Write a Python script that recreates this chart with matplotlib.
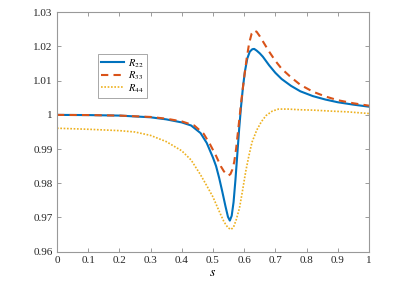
# R22 / R33 / R44 against s
import matplotlib
matplotlib.use("Agg")
import matplotlib.pyplot as plt
from matplotlib.ticker import FuncFormatter

plt.rcParams["font.family"] = ["Liberation Serif", "DejaVu Serif"]
plt.rcParams["mathtext.fontset"] = "stix"

# values
s_22 = [0.0, 0.1, 0.2, 0.3, 0.35, 0.4, 0.43, 0.46, 0.48, 0.50, 0.51, 0.52, 0.53, 0.54,
        0.548, 0.554, 0.56, 0.566, 0.572, 0.578, 0.584, 0.59, 0.596, 0.602, 0.61, 0.618,
        0.626, 0.632, 0.64, 0.65, 0.66, 0.68, 0.70, 0.72, 0.75, 0.78, 0.82, 0.86, 0.9, 0.95, 1.0]
r_22 = [1.0000, 0.99995, 0.9998, 0.9993, 0.9987, 0.9978, 0.9969, 0.9947, 0.9918, 0.9875,
        0.9850, 0.9815, 0.9775, 0.9733, 0.9702, 0.9691, 0.9705, 0.9745, 0.9810, 0.9885,
        0.9960, 1.0025, 1.0080, 1.0125, 1.0165, 1.0185, 1.0192, 1.0193, 1.0188, 1.0180,
        1.0170, 1.0145, 1.0123, 1.0105, 1.0085, 1.0069, 1.0055, 1.0045, 1.0037, 1.0030, 1.0024]

s_33 = [0.0, 0.1, 0.2, 0.3, 0.35, 0.4, 0.44, 0.47, 0.49, 0.51, 0.525, 0.535, 0.545, 0.55,
        0.556, 0.562, 0.568, 0.574, 0.58, 0.586, 0.592, 0.6, 0.608, 0.616, 0.624, 0.632,
        0.64, 0.65, 0.66, 0.68, 0.70, 0.72, 0.75, 0.78, 0.82, 0.86, 0.9, 0.95, 1.0]
r_33 = [1.0000, 0.99995, 0.9998, 0.9994, 0.9989, 0.9981, 0.9969, 0.9945, 0.9915, 0.9880,
        0.9850, 0.9835, 0.9825, 0.9823, 0.9827, 0.9840, 0.9862, 0.9900, 0.9950, 1.0000,
        1.0050, 1.0110, 1.0165, 1.0210, 1.0238, 1.0247, 1.0243, 1.0230, 1.0215, 1.0185,
        1.0158, 1.0135, 1.0110, 1.0088, 1.0068, 1.0054, 1.0043, 1.0034, 1.0027]

s_44 = [0.0, 0.1, 0.2, 0.25, 0.3, 0.35, 0.4, 0.43, 0.46, 0.48, 0.5, 0.52, 0.535, 0.548,
        0.558, 0.566, 0.575, 0.585, 0.595, 0.605, 0.615, 0.625, 0.64, 0.655, 0.67, 0.69,
        0.71, 0.74, 0.78, 0.82, 0.88, 0.93, 1.0]
r_44 = [0.9961, 0.9958, 0.9954, 0.9950, 0.9940, 0.9922, 0.9895, 0.9868, 0.9825, 0.9793,
        0.9760, 0.9718, 0.9688, 0.9670, 0.9665, 0.9672, 0.9695, 0.9728, 0.9780, 0.9835,
        0.9880, 0.9920, 0.9955, 0.9980, 0.9998, 1.0011, 1.0017, 1.0017, 1.0015, 1.0014,
        1.0011, 1.0009, 1.0004]

x_ticks = [0, 0.1, 0.2, 0.3, 0.4, 0.5, 0.6, 0.7, 0.8, 0.9, 1]
y_ticks = [0.96, 0.97, 0.98, 0.99, 1.0, 1.01, 1.02, 1.03]

fig = plt.figure(figsize=(4.15, 3.0), dpi=100)
ax = fig.add_axes([0.1373, 0.161, 0.7518, 0.798])

ax.plot(s_22, r_22, color="#0072BD", lw=1.5, label="$R_{22}$")
ax.plot(s_33, r_33, color="#D95319", lw=1.5, ls=(0, (3.5, 2.5)), label="$R_{33}$")
ax.plot(s_44, r_44, color="#EDB120", lw=1.2, ls=(0, (1, 1)), label="$R_{44}$")

ax.set_xlim(0, 1)
ax.set_ylim(0.96, 1.03)
ax.set_xticks(x_ticks)
ax.set_yticks(y_ticks)
ax.xaxis.set_major_formatter(FuncFormatter(lambda v, p: "%g" % v))
ax.yaxis.set_major_formatter(FuncFormatter(lambda v, p: "%g" % round(v, 2)))
ax.tick_params(direction="in", length=3, width=0.6, top=True, right=True,
               labelsize=8, colors="0.55", labelcolor="#262626", pad=3)
for sp in ax.spines.values():
    sp.set_color("0.6")
    sp.set_linewidth(0.8)

ax.set_xlabel("$s$", fontsize=10, labelpad=1)

leg = ax.legend(loc="upper left", bbox_to_anchor=(0.131, 0.826), borderaxespad=0,
                fontsize=7.5, fancybox=False, handlelength=2.2, handletextpad=0.4,
                labelspacing=0.0, borderpad=0.3)
leg.get_frame().set_edgecolor("0.5")
leg.get_frame().set_linewidth(0.6)

fig.savefig("out.png", dpi=100)
